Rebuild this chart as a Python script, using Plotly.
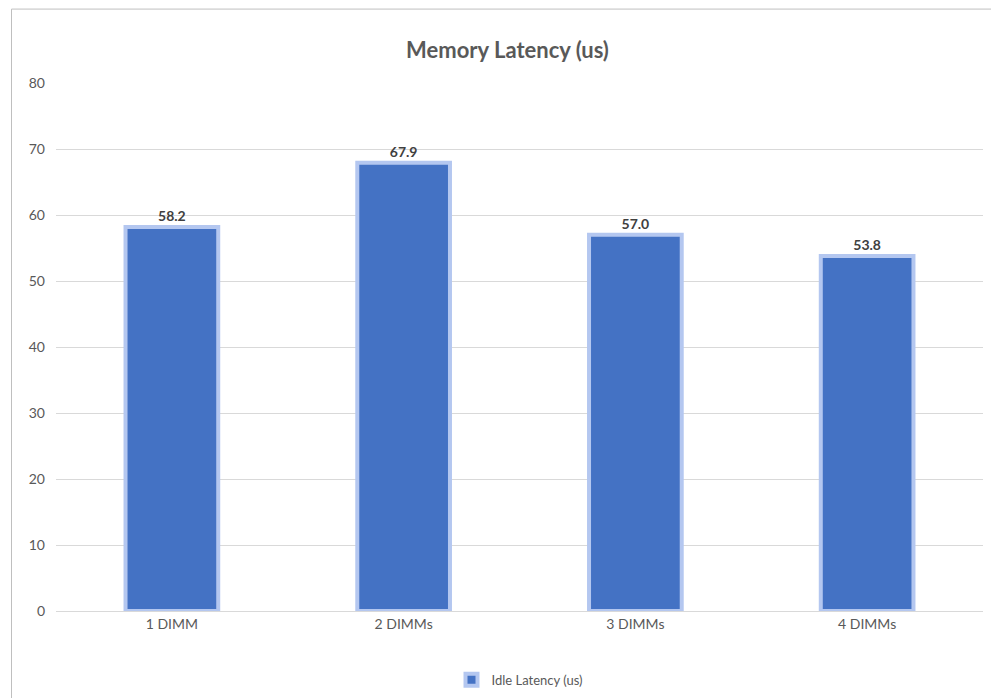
import plotly.graph_objects as go

categories = ["1 DIMM", "2 DIMMs", "3 DIMMs", "4 DIMMs"]
latency = [58.2, 67.9, 57.0, 53.8]
series_name = "Idle Latency (us)"

fig = go.Figure(go.Bar(
    x=categories, y=latency, name=series_name,
    marker=dict(color="#4472C4", line=dict(color="#B4C7F0", width=4)),
    text=[f"{v:.1f}" for v in latency], textposition="outside",
    textfont=dict(size=14, color="#404040", family="Lato", weight="bold"),
    width=0.4, showlegend=True, cliponaxis=False,
))
fig.update_layout(
    width=999, height=698, paper_bgcolor="white", plot_bgcolor="white",
    margin=dict(l=48, r=24, t=75, b=94),
    font=dict(family="Lato", color="#595959", size=14),
    title=dict(text="<b>Memory Latency (us)</b>", x=0.5, y=0.95, xanchor="center",
               font=dict(size=22, color="#595959")),
    yaxis=dict(range=[0, 80], dtick=10, gridcolor="#D9D9D9", zeroline=False,
               showline=False, ticks="", ticklabelstandoff=10),
    xaxis=dict(showline=True, linecolor="#D9D9D9", ticks=""),
    legend=dict(orientation="h", x=0.5, xanchor="center", y=-0.1, yanchor="top",
                font=dict(size=13)),
    shapes=[dict(type="rect", xref="paper", yref="paper", x0=-0.048, x1=1.0245,
                 y0=-0.176, y1=1.14, line=dict(color="#BFBFBF", width=1))],
)
fig.write_html("out.html")
